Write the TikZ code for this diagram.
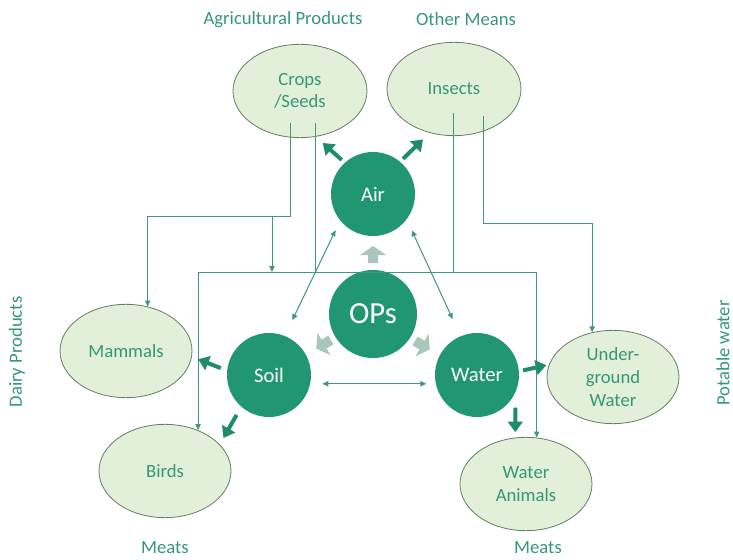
\documentclass[tikz,border=0pt]{standalone}
\usepackage{fontspec}
\setmainfont{Carlito}
\usetikzlibrary{shapes.geometric,arrows.meta}

\definecolor{opsgreen}{RGB}{33,150,115}
\definecolor{flowgreen}{RGB}{30,140,106}
\definecolor{leafgreen}{RGB}{226,239,217}
\definecolor{rimgreen}{RGB}{100,125,100}
\definecolor{txtgreen}{RGB}{52,152,115}
\definecolor{linkgreen}{RGB}{62,152,122}
\definecolor{pushgray}{RGB}{168,198,186}

\tikzset{
  sink/.style={ellipse, draw=rimgreen, line width=0.6pt, fill=leafgreen,
    minimum width=99pt, minimum height=70pt, inner sep=0pt,
    text=txtgreen, align=center, font=\fontsize{14}{17}\selectfont},
  pool/.style={circle, fill=opsgreen, minimum size=63pt, inner sep=0pt,
    text=white, font=\fontsize{15.5}{18}\selectfont},
  link/.style={draw=linkgreen, line width=0.75pt, >={Triangle[length=4.5pt,width=4pt]}},
  flow/.style={draw=flowgreen, line width=3pt, -{Triangle[length=8pt,width=11pt]}},
  caption/.style={text=txtgreen, font=\fontsize{14}{17}\selectfont},
  push/.pic={\fill[pushgray] (-8,-5) -- (0,-5) -- (0,-13) -- (9,0) -- (0,13) -- (0,5) -- (-8,5) -- cycle;}
}

\begin{document}
\begin{tikzpicture}[x=0.75pt, y=-0.75pt]
    \useasboundingbox (0,0) rectangle (733,560);

    % media
    \begin{scope}[every node/.style=pool]
        \node (air) at (373,194) {Air};
        \node (soil) at (269,375) {Soil};
        \node (water) at (477,375) {Water};
        \node[minimum size=66pt, font=\fontsize{23}{26}\selectfont] (ops) at (373,314) {OPs};
    \end{scope}

    % receivers
    \begin{scope}[every node/.style=sink]
        \node[minimum width=100.5pt] (crops) at (300,91) {Crops\\/Seeds};
        \node[minimum width=100.5pt] (insects) at (454,89) {Insects};
        \node (mammals) at (126,351) {Mammals};
        \node (birds) at (165,471) {Birds};
        \node (uwater) at (613,377) {Under-\\ground\\Water};
        \node (wanimals) at (526,484) {Water\\Animals};
    \end{scope}

    % side labels
    \node[caption] (agri) at (283,20) {Agricultural Products};
    \node[caption] (other) at (466,19) {Other Means};
    \node[caption, rotate=90] (dairy) at (17,352) {Dairy Products};
    \node[caption] (meatsL) at (165,548) {Meats};
    \node[caption] (meatsR) at (538,548) {Meats};
    \node[caption, rotate=90] (potable) at (723,353) {Potable water};

    % OPs spreading out
    \pic[rotate=90] at (373,255) {push};
    \pic[rotate=210] at (324,344) {push};
    \pic[rotate=-30] at (422,345) {push};

    % food chain lines
    \coordinate (upbus) at (0,217);
    \coordinate (bus) at (0,272);
    \coordinate (rbus) at (0,224);
    \coordinate (feed) at (272,217);
    \coordinate (crops1) at ([shift={(-10,32)}]crops.center);
    \coordinate (crops2) at ([shift={(15,32)}]crops.center);
    \coordinate (insects1) at ([shift={(-1,24)}]insects.center);
    \coordinate (insects2) at ([shift={(29,27)}]insects.center);

    \draw[link, ->] (crops1) -- (crops1 |- upbus) -| (mammals.64);
    \draw[link, ->] (feed) -- (feed |- bus);
    \draw[link] (crops2) -- (crops2 |- bus) -- (insects1 |- bus) -- (insects1);
    \draw[link, ->] (birds.51 |- bus) -- (birds.51);
    \draw[link, ->] (birds.51 |- bus) -- (wanimals.77 |- bus) -- (wanimals.77);
    \draw[link, ->] (insects2) -- (insects2 |- rbus) -| (uwater.115);

    % exchange between media
    \draw (soil.68) edge[link, <->, shorten <=13pt, shorten >=8pt] (air.219);
    \draw (water.113) edge[link, <->, shorten <=14pt, shorten >=9pt] (air.-37.5);
    \draw (soil.-12) edge[link, <->, shorten <=9pt, shorten >=7pt] (water.192);

    % uptake
    \draw (air.132) edge[flow, shorten <=3pt, shorten >=7pt] (crops.-71);
    \draw (air.50) edge[flow, shorten <=3pt, shorten >=7pt] (insects.-119);
    \draw (soil.174) edge[flow, shorten <=5pt, shorten >=5pt] (mammals.-5);
    \draw (soil.229) edge[flow, shorten <=7pt, shorten >=5.5pt] (birds.26);
    \draw (water.5) edge[flow, shorten <=3pt, shorten >=2pt] (uwater.169);
    \draw (water.-25) edge[flow, shorten <=11pt, shorten >=4pt] (wanimals.103);
\end{tikzpicture}
\end{document}
